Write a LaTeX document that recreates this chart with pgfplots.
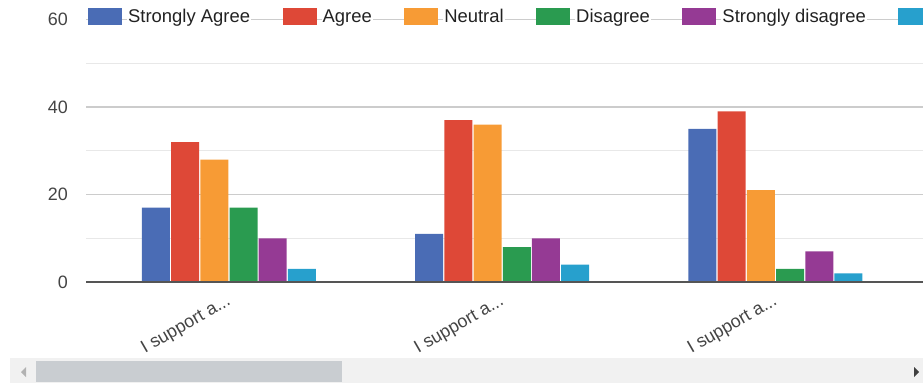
\documentclass[border=0pt]{standalone}
\usepackage{pgfplots}
\pgfplotsset{compat=1.18}
\usepackage{fontspec}
\setmainfont{Liberation Sans}
\definecolor{cA}{HTML}{4A6CB5}
\definecolor{cB}{HTML}{DE4837}
\definecolor{cC}{HTML}{F79B35}
\definecolor{cD}{HTML}{2A9B50}
\definecolor{cE}{HTML}{953A94}
\definecolor{cF}{HTML}{27A0CD}
\definecolor{gridmaj}{HTML}{CCCCCC}
\definecolor{gridmin}{HTML}{E8E8E8}
\definecolor{axdark}{HTML}{555555}
\definecolor{ticktext}{HTML}{444444}
\definecolor{legtext}{HTML}{222222}
\definecolor{track}{HTML}{F1F1F1}
\definecolor{thumb}{HTML}{C9CDD1}
\newcommand\lab{I support a...}
\begin{document}
\begin{tikzpicture}[x=1bp,y=1bp]
\path[use as bounding box] (0,0) rectangle (923,383);
\clip (0,0) rectangle (923,383);
\begin{axis}[
  at={(86bp,101bp)}, anchor=south west,
  scale only axis, width=837bp, height=262.5bp,
  xmin=-0.523, xmax=2.54, ymin=0, ymax=60,
  ybar=1.2bp, bar width=28bp,
  axis line style={draw=none},
  tick style={draw=none},
  /pgf/number format/assume math mode=true,
  ytick={0,20,40,60}, minor ytick={10,30,50},
  ymajorgrids, yminorgrids,
  major grid style={gridmaj, line width=1.6bp},
  minor grid style={gridmin, line width=1.4bp},
  xtick={0,1,2},
  xticklabels={\lab,\lab,\lab},
  xticklabel style={rotate=30, anchor=north east, font=\fontsize{18}{18}\selectfont, text=ticktext, inner sep=0pt, yshift=-4.2bp, xshift=-6.5bp},
  yticklabel style={font=\fontsize{18}{18}\selectfont, text=ticktext, inner xsep=0pt, xshift=-18bp},
  legend columns=-1,
  legend style={draw=none, fill=none, at={(-0.0012,1.011)}, anchor=west,
    font=\fontsize{18.5}{19}\selectfont, text=legtext,
    nodes={fill=white, inner xsep=1bp, inner ysep=2bp},
    column sep=5bp,
    /tikz/every even column/.append style={column sep=31.5bp}},
  legend image code/.code={\fill[#1] (0bp,-8.5bp) rectangle (34bp,8.5bp);},
  clip=false,
]
\addplot[fill=cA, draw=none] coordinates {(0,17) (1,11) (2,35)};
\addplot[fill=cB, draw=none] coordinates {(0,32) (1,37) (2,39)};
\addplot[fill=cC, draw=none] coordinates {(0,28) (1,36) (2,21)};
\addplot[fill=cD, draw=none] coordinates {(0,17) (1,8) (2,3)};
\addplot[fill=cE, draw=none] coordinates {(0,10) (1,10) (2,7)};
\addplot[fill=cF, draw=none] coordinates {(0,3) (1,4) (2,2)};
\legend{Strongly Agree, Agree, Neutral, Disagree, Strongly disagree, Strongly disagree}
\draw[axdark, line width=2bp] (rel axis cs:0,0) -- (rel axis cs:1,0);
\end{axis}
% scrollbar
\fill[track] (10,0) rectangle (923,25);
\fill[thumb] (36,1) rectangle (342,22);
\fill[gray!60] (21,11) -- (26,16) -- (26,6) -- cycle;
\fill[black!75] (919,11) -- (914,16) -- (914,6) -- cycle;
\end{tikzpicture}
\end{document}
